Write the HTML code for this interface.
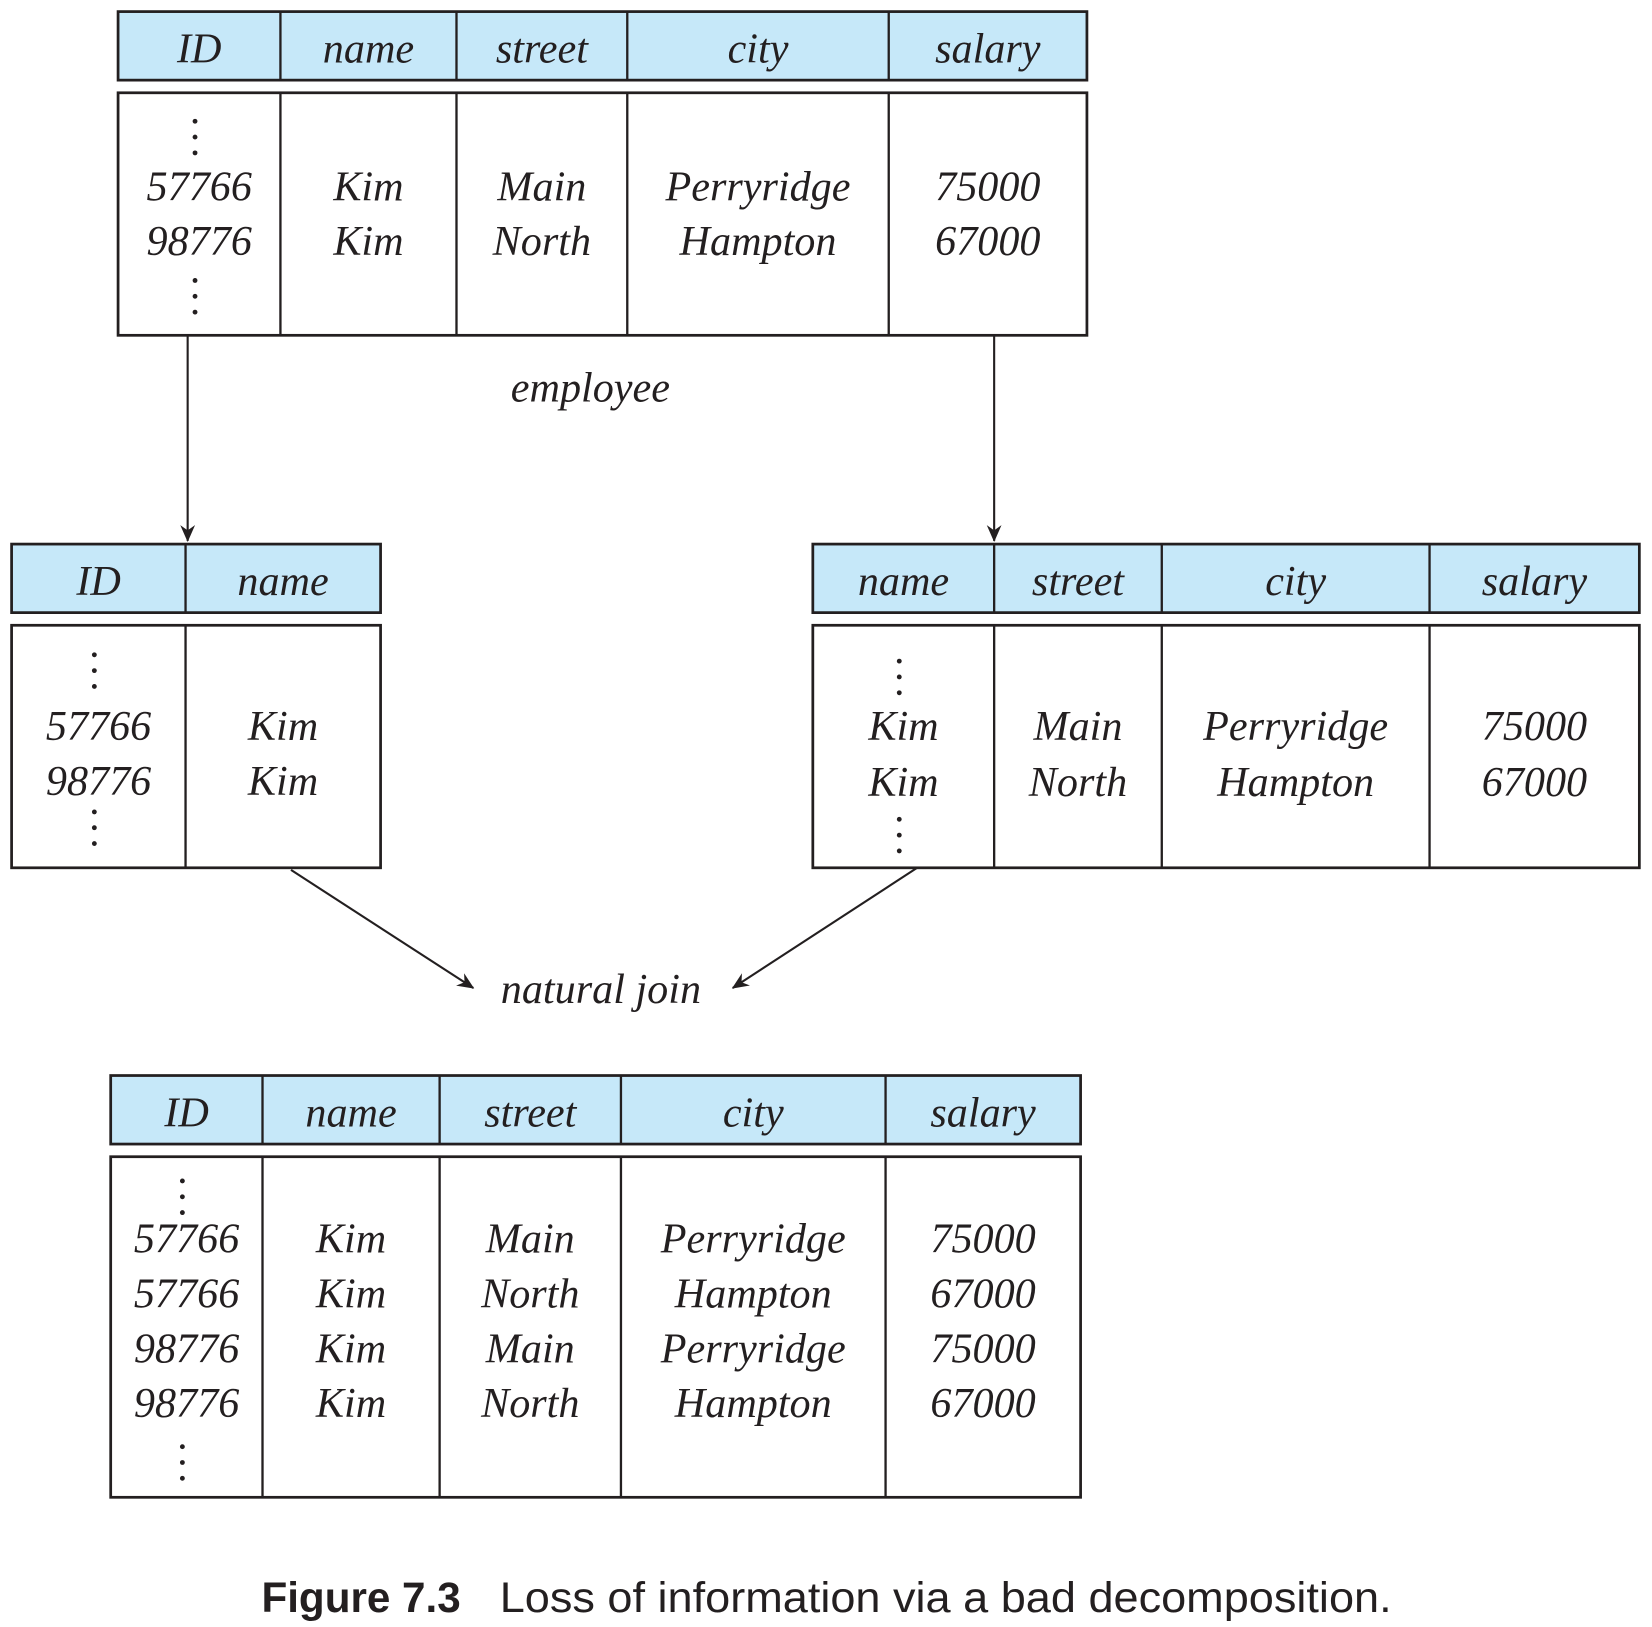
<!DOCTYPE html>
<html><head><meta charset="utf-8"><style>
html,body{margin:0;padding:0;background:#fff;}
svg{display:block;}
.t{font-family:"Liberation Serif",serif;font-style:italic;font-size:40px;fill:#231f20;text-anchor:middle;}
.cap{font-family:"Liberation Sans",sans-serif;font-size:40px;fill:#231f20;}
</style></head><body>
<svg id="fig" width="1652" height="1627" viewBox="0 0 1567 1543" preserveAspectRatio="none" xmlns="http://www.w3.org/2000/svg">
<defs><marker id="ah" markerWidth="18" markerHeight="16" refX="15" refY="7" orient="auto" markerUnits="userSpaceOnUse"><path d="M0,0 L16,7 L0,14 L5,7 Z" fill="#231f20"/></marker></defs>
<g id="root"></g>
<line x1="178" y1="318" x2="178" y2="513" stroke="#231f20" stroke-width="2" marker-end="url(#ah)"/>
<line x1="943" y1="318" x2="943" y2="513" stroke="#231f20" stroke-width="2" marker-end="url(#ah)"/>
<line x1="276" y1="825" x2="449" y2="937" stroke="#231f20" stroke-width="2" marker-end="url(#ah)"/>
<line x1="870" y1="823" x2="695" y2="937" stroke="#231f20" stroke-width="2" marker-end="url(#ah)"/>
<text class="t" x="560" y="381">employee</text>
<text class="t" x="570" y="951">natural join</text>
<text class="cap" y="1529"><tspan x="248" font-weight="bold" textLength="189" lengthAdjust="spacingAndGlyphs">Figure 7.3</tspan><tspan x="474" textLength="846" lengthAdjust="spacingAndGlyphs">Loss of information via a bad decomposition.</tspan></text>
</svg>
<script>
const NS="http://www.w3.org/2000/svg";
const root=document.getElementById('root');
const tables=[
 {name:'employee-table',x:[112,266,433,595,843,1031],hy:[11,76],by:[88,318],
  heads:['ID','name','street','city','salary'],
  cols:[['57766','98776'],['Kim','Kim'],['Main','North'],['Perryridge','Hampton'],['75000','67000']],
  rows:[190,242],dotCol:0,dots:[[115,130,145],[266,281,296]]},
 {name:'id-name-table',x:[11,176,361],hy:[516,581],by:[593,823],
  heads:['ID','name'],cols:[['57766','98776'],['Kim','Kim']],
  rows:[702,754],dotCol:0,dots:[[621,636,651],[770,785,800]]},
 {name:'name-salary-table',x:[771,943,1102,1356,1555],hy:[516,581],by:[593,823],
  heads:['name','street','city','salary'],
  cols:[['Kim','Kim'],['Main','North'],['Perryridge','Hampton'],['75000','67000']],
  rows:[702,755],dotCol:0,dots:[[627,642,657],[777,792,807]]},
 {name:'joined-table',x:[105,249,417,589,840,1025],hy:[1020,1085],by:[1097,1420],
  heads:['ID','name','street','city','salary'],
  cols:[['57766','57766','98776','98776'],['Kim','Kim','Kim','Kim'],['Main','North','Main','North'],['Perryridge','Hampton','Perryridge','Hampton'],['75000','67000','75000','67000']],
  rows:[1188,1240,1292,1344],dotCol:0,dots:[[1120,1135,1150],[1372,1387,1402]]}
];
function mk(tag,attrs,parent){const e=document.createElementNS(NS,tag);for(const k in attrs)e.setAttribute(k,attrs[k]);(parent||root).appendChild(e);return e;}
tables.forEach(t=>{
 const g=mk('g',{});
 
 
 const X=t.x, L=X[0], R=X[X.length-1];
 const hr=mk('rect',{x:L,y:t.hy[0],width:R-L,height:t.hy[1]-t.hy[0],fill:'#c6e8f9',stroke:'#231f20','stroke-width':2.6},g);
 
 
 mk('rect',{x:L,y:t.by[0],width:R-L,height:t.by[1]-t.by[0],fill:'#fff',stroke:'#231f20','stroke-width':2.6},g);
 for(let i=1;i<X.length-1;i++){
  mk('line',{x1:X[i],x2:X[i],y1:t.hy[0],y2:t.hy[1],stroke:'#231f20','stroke-width':2.2},g);
  mk('line',{x1:X[i],x2:X[i],y1:t.by[0],y2:t.by[1],stroke:'#231f20','stroke-width':2.2},g);
 }
 t.heads.forEach((h,i)=>{
  const cx=(X[i]+X[i+1])/2;
  const tx=mk('text',{class:'t',x:cx,y:(t.hy[0]+t.hy[1])/2+16},g);
  tx.textContent=h;
  
  
 });
 t.cols.forEach((col,i)=>{
  const cx=(X[i]+X[i+1])/2;
  col.forEach((v,r)=>{
   const tx=mk('text',{class:'t',x:cx,y:t.rows[r]},g);
   tx.textContent=v;
   
   
  });
 });
 const dx=(X[t.dotCol]+X[t.dotCol+1])/2-4;
 t.dots.forEach(set=>set.forEach(y=>{
  const c=mk('circle',{cx:dx,cy:y,r:2.3,fill:'#231f20'},g);
  
  
 }));
});
</script>
</body></html>
